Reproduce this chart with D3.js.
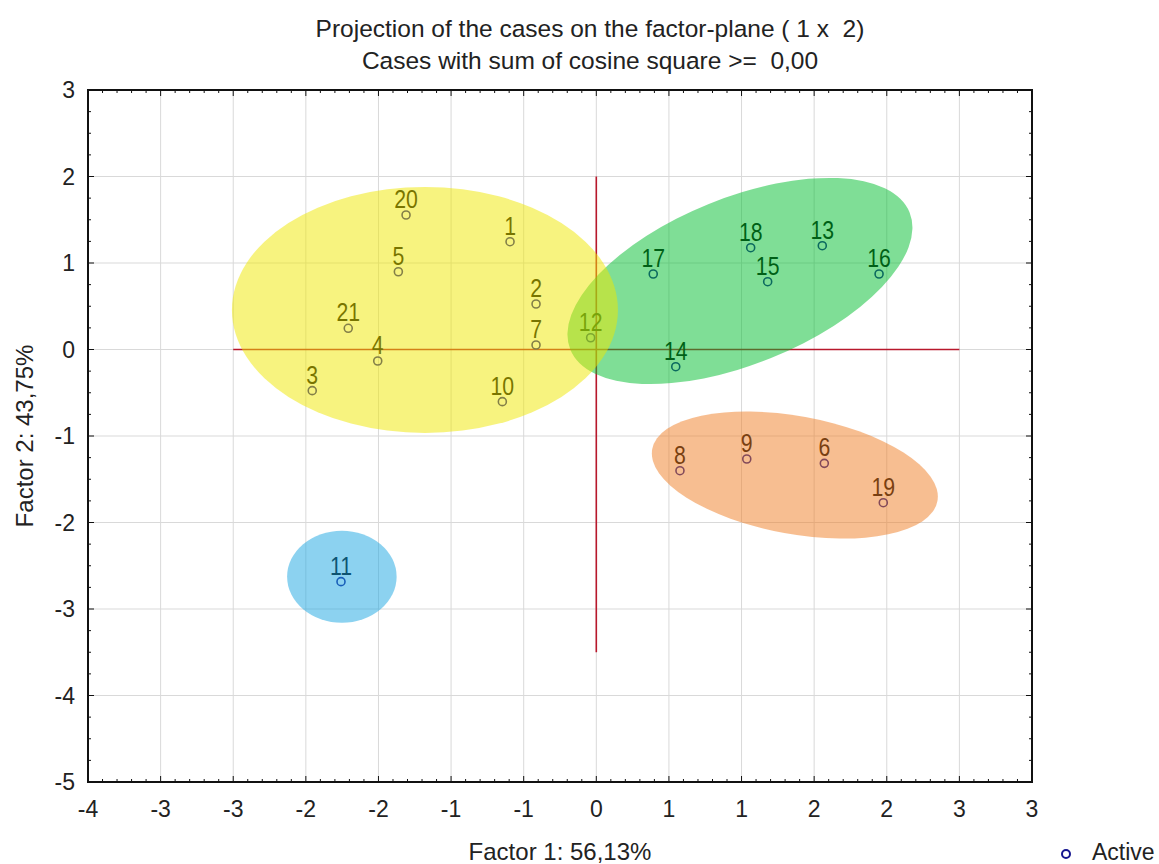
<!DOCTYPE html>
<html>
<head>
<meta charset="utf-8">
<script src="https://cdn.jsdelivr.net/npm/d3@7"></script>
<style>
  body { margin: 0; background: #fff; }
  text { font-family: "Liberation Sans", Arial, sans-serif; fill: #222; }
</style>
</head>
<body>
<div id="chart"></div>
<script>
// case scores on factor 1 / factor 2
const caseIds = ["1","2","3","4","5","6","7","8","9","10","11","12","13","14","15","16","17","18","19","20","21"];
const factor1 = [-0.594,-0.415,-1.956,-1.505,-1.363,1.570,-0.415,0.576,1.036,-0.647,-1.758,-0.039,1.556,0.547,1.180,1.947,0.392,1.063,1.976,-1.310,-1.708];
const factor2 = [1.246,0.526,-0.476,-0.133,0.899,-1.316,0.052,-1.401,-1.266,-0.603,-2.684,0.136,1.200,-0.199,0.784,0.873,0.873,1.177,-1.771,1.555,0.245];

// group ellipses (centre in factor units, semi-axes in factor-1 units, tilt in degrees)
const groupNames = ["green", "orange", "blue", "yellow"];
const groupCx = [0.989, 1.367, -1.752, -1.18];
const groupCy = [0.792, -1.451, -2.627, 0.457];
const groupRx = [1.26, 0.998, 0.377, 1.329];
const groupRy = [0.572, 0.406, 0.317, 0.847];
const groupTilt = [-22, 10.3, 0, 0];

// axes
const xTickValues = [-3.5,-3,-2.5,-2,-1.5,-1,-0.5,0,0.5,1,1.5,2,2.5,3];
const xTickLabels = ["-4","-3","-3","-2","-2","-1","-1","0","1","1","2","2","3","3"];
const yTickValues = [-5,-4,-3,-2,-1,0,1,2,3];
const yTickLabels = ["-5","-4","-3","-2","-1","0","1","2","3"];

const groupColors = { green: "#00bd2d", orange: "#ef7d23", blue: "#19a5e1", yellow: "#efe700" };

const config = {
    containerWidth: 1159,
    containerHeight: 864,
    margin: { top: 90, right: 127, bottom: 82, left: 88 }
};
const width = config.containerWidth - config.margin.left - config.margin.right;
const height = config.containerHeight - config.margin.top - config.margin.bottom;

const svg = d3.select("#chart").append("svg")
    .attr("width", config.containerWidth)
    .attr("height", config.containerHeight);

const g = svg.append("g")
    .attr("transform", `translate(${config.margin.left},${config.margin.top})`);

const x = d3.scaleLinear().domain([-3.5, 3]).range([0, width]);
const y = d3.scaleLinear().domain([-5, 3]).range([height, 0]);

// grid
g.append("g").selectAll("line").data(xTickValues).join("line")
    .attr("x1", d => x(d)).attr("x2", d => x(d))
    .attr("y1", 0).attr("y2", height)
    .attr("stroke", "#d9d9d9").attr("stroke-width", 1);
g.append("g").selectAll("line").data(yTickValues).join("line")
    .attr("y1", d => y(d)).attr("y2", d => y(d))
    .attr("x1", 0).attr("x2", width)
    .attr("stroke", "#d9d9d9").attr("stroke-width", 1);

// factor axes through origin
g.append("line")
    .attr("x1", x(-2.5)).attr("x2", x(2.5))
    .attr("y1", y(0)).attr("y2", y(0))
    .attr("stroke", "#b8182c").attr("stroke-width", 1.6);
g.append("line")
    .attr("x1", x(0)).attr("x2", x(0))
    .attr("y1", y(2)).attr("y2", y(-3.5))
    .attr("stroke", "#b8182c").attr("stroke-width", 1.6);

const points = caseIds.map((id, i) => ({ id: id, f1: factor1[i], f2: factor2[i] }));

g.append("g").selectAll("circle").data(points).join("circle")
    .attr("cx", d => x(d.f1))
    .attr("cy", d => y(d.f2))
    .attr("r", 4)
    .attr("fill", "none")
    .attr("stroke", "#16168f")
    .attr("stroke-width", 1.6);

// case labels, squeezed a bit like a narrow face
g.append("g").selectAll("text").data(points).join("text")
    .attr("transform", d => `translate(${x(d.f1)},${y(d.f2) - 7}) scale(0.85,1)`)
    .attr("text-anchor", "middle")
    .attr("font-size", 25)
    .style("fill", "#000")
    .text(d => d.id);

// ellipses on top, semi transparent
const groups = groupNames.map((n, i) => ({
    name: n, cx: groupCx[i], cy: groupCy[i], rx: groupRx[i], ry: groupRy[i], tilt: groupTilt[i]
}));
g.append("g").selectAll("ellipse").data(groups).join("ellipse")
    .attr("transform", d => `translate(${x(d.cx)},${y(d.cy)}) rotate(${d.tilt})`)
    .attr("rx", d => x(d.rx) - x(0))
    .attr("ry", d => x(d.ry) - x(0))
    .attr("fill", d => groupColors[d.name])
    .attr("fill-opacity", 0.5);

// minor ticks
const xMinor = d3.range(-3.5, 3.0001, 0.1).filter(v => Math.abs(Math.round(v * 2) - v * 2) > 1e-6);
const yMinor = d3.range(-5, 3.0001, 0.25).filter(v => Math.abs(Math.round(v) - v) > 1e-6);

const ticks = g.append("g").attr("stroke", "#111");
xMinor.forEach(v => {
    ticks.append("line").attr("x1", x(v)).attr("x2", x(v)).attr("y1", height).attr("y2", height - 3);
    ticks.append("line").attr("x1", x(v)).attr("x2", x(v)).attr("y1", 0).attr("y2", 3);
});
xTickValues.forEach(v => {
    ticks.append("line").attr("x1", x(v)).attr("x2", x(v)).attr("y1", height).attr("y2", height - 6);
    ticks.append("line").attr("x1", x(v)).attr("x2", x(v)).attr("y1", 0).attr("y2", 6);
});
yMinor.forEach(v => {
    ticks.append("line").attr("y1", y(v)).attr("y2", y(v)).attr("x1", 0).attr("x2", 3);
    ticks.append("line").attr("y1", y(v)).attr("y2", y(v)).attr("x1", width).attr("x2", width - 3);
});
yTickValues.forEach(v => {
    ticks.append("line").attr("y1", y(v)).attr("y2", y(v)).attr("x1", 0).attr("x2", 6);
    ticks.append("line").attr("y1", y(v)).attr("y2", y(v)).attr("x1", width).attr("x2", width - 6);
});

// frame
g.append("rect")
    .attr("width", width).attr("height", height)
    .attr("fill", "none").attr("stroke", "#111").attr("stroke-width", 2);

// tick labels
g.append("g").selectAll("text").data(xTickValues).join("text")
    .attr("x", d => x(d))
    .attr("y", height + 35)
    .attr("text-anchor", "middle")
    .attr("font-size", 23)
    .text((d, i) => xTickLabels[i]);
g.append("g").selectAll("text").data(yTickValues).join("text")
    .attr("x", -13)
    .attr("y", d => y(d) + 8)
    .attr("text-anchor", "end")
    .attr("font-size", 23)
    .text((d, i) => yTickLabels[i]);

// titles
svg.append("text")
    .attr("x", 590).attr("y", 37)
    .attr("text-anchor", "middle")
    .attr("font-size", 24.5)
    .style("white-space", "pre")
    .text("Projection of the cases on the factor-plane ( 1 x  2)");
svg.append("text")
    .attr("x", 590).attr("y", 69)
    .attr("text-anchor", "middle")
    .attr("font-size", 24.5)
    .style("white-space", "pre")
    .text("Cases with sum of cosine square >=  0,00");

svg.append("text")
    .attr("x", config.margin.left + width / 2).attr("y", 860)
    .attr("text-anchor", "middle")
    .attr("font-size", 24)
    .text("Factor 1: 56,13%");
svg.append("text")
    .attr("transform", `translate(33,${config.margin.top + height / 2}) rotate(-90)`)
    .attr("text-anchor", "middle")
    .attr("font-size", 24)
    .text("Factor 2: 43,75%");

// legend
svg.append("circle")
    .attr("cx", 1066).attr("cy", 854).attr("r", 4)
    .attr("fill", "none").attr("stroke", "#16168f").attr("stroke-width", 2);
svg.append("text")
    .attr("x", 1092).attr("y", 860)
    .attr("font-size", 23)
    .text("Active");
</script>
</body>
</html>
